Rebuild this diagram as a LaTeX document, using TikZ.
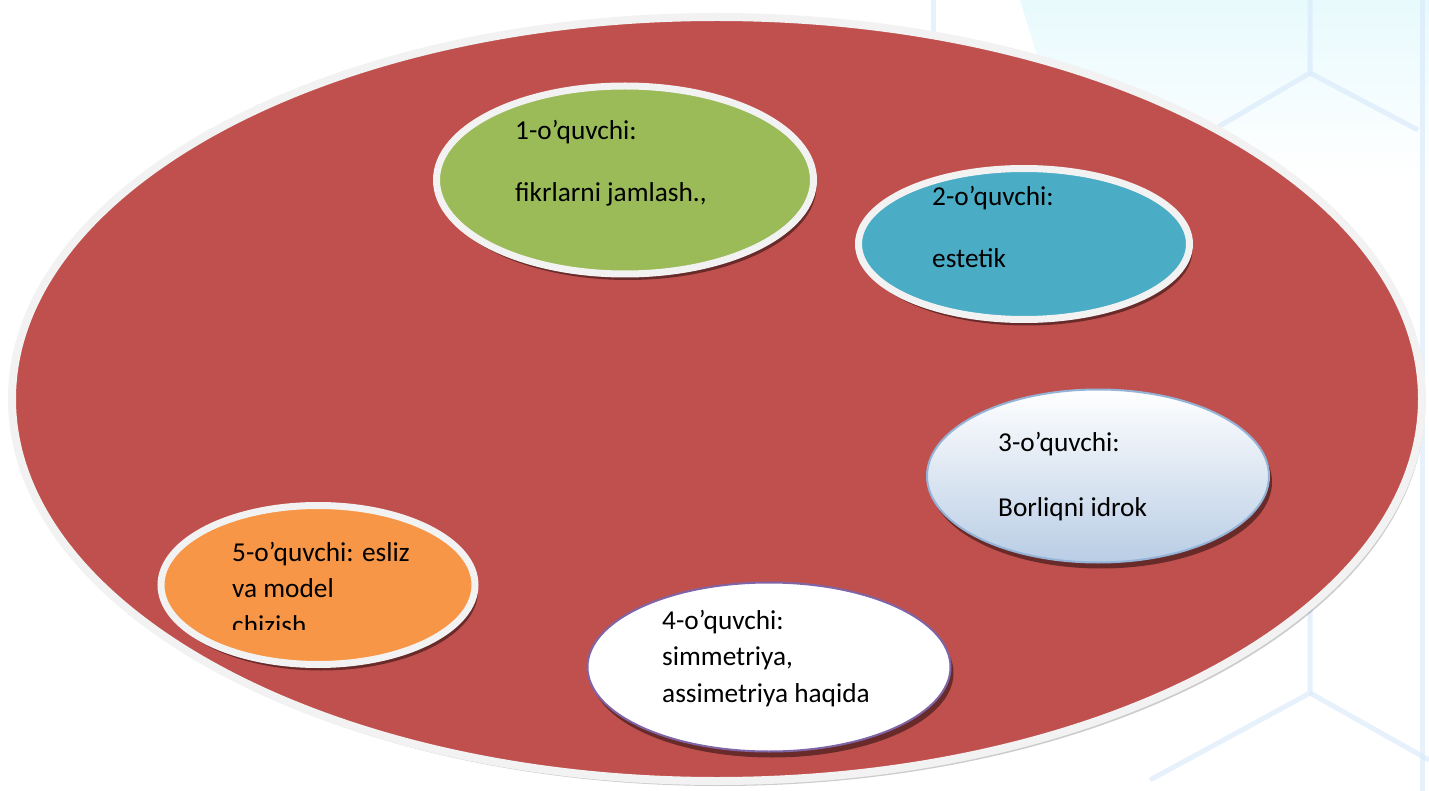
\documentclass[tikz,border=0pt]{standalone}
\usepackage{fontspec}
\setmainfont{Carlito}
\usetikzlibrary{shapes.geometric,shadows}
\definecolor{ovalred}{HTML}{C0504D}
\definecolor{ovalgreen}{HTML}{9BBB59}
\definecolor{ovalblue}{HTML}{4BACC6}
\definecolor{ovalorange}{HTML}{F79646}
\definecolor{rimgray}{HTML}{F2F2F2}
\definecolor{edgeblue}{HTML}{95B3D7}
\definecolor{shadeblue}{HTML}{B9CDE5}
\definecolor{edgepurple}{HTML}{7F64A6}
\definecolor{bgcyan}{HTML}{E8FAFD}
\definecolor{hexblue}{HTML}{D6E8FA}
\tikzset{
    ovalnode/.style={ % requires library shapes.geometric
        ellipse,
        draw=rimgray,
        line width=7pt,
        inner sep=0pt,
        drop shadow={shadow xshift=3pt,shadow yshift=-6pt,opacity=.45,fill=black}
    },
    pupiltext/.style={
        anchor=base west,
        align=left,
        inner sep=0pt,
        font=\fontsize{27.3}{36.5}\selectfont
    },
    hexline/.style={
        draw=hexblue,
        line width=5pt,
        opacity=.6
    }
}

\begin{document}
\begin{tikzpicture}[x=1pt,y=-1pt]
        \useasboundingbox (0,0) rectangle (1429,791);
        % faint background
        \shade[top color=bgcyan,bottom color=white] (1020,0) -- (1429,0) -- (1429,180) -- (1075,180) -- cycle;
        \draw[hexline] (933,0) -- (933,40);
        \draw[hexline] (1310,0) -- (1310,73) -- (1218,127);
        \draw[hexline] (1310,73) -- (1418,130);
        \draw[hexline] (1422,0) -- (1422,791);
        \draw[hexline] (1310,600) -- (1310,693) -- (1150,780);
        \draw[hexline] (1310,693) -- (1429,760);

        \node[ellipse,fill=ovalred,draw=rimgray,line width=8pt,
              minimum width=1410pt,minimum height=764pt,
              drop shadow={shadow xshift=3pt,shadow yshift=-5pt,opacity=.2,fill=black}] (board) at (717,399) {};

        \node[ovalnode,fill=ovalgreen,minimum width=377pt,minimum height=188pt] (pupilA) at (625,180) {};
        \node[ovalnode,fill=ovalblue,minimum width=331pt,minimum height=151pt] (pupilB) at (1024,244) {};
        \node[ovalnode,draw=edgeblue,line width=2pt,top color=white,bottom color=shadeblue,
              minimum width=342pt,minimum height=173pt] (pupilC) at (1098,476) {};
        \node[ovalnode,draw=edgepurple,line width=2pt,fill=white,
              minimum width=363pt,minimum height=169pt] (pupilD) at (769,667) {};
        \node[ovalnode,fill=ovalorange,minimum width=314pt,minimum height=159pt] (pupilE) at (318,585) {};

        % anchor base west = baseline of the last line
        \node[pupiltext] (textA) at (515,202) {1-o’quvchi:\\[26pt]fikrlarni jamlash.,};
        \node[pupiltext] (textB) at (932,268) {2-o’quvchi:\\[26pt]estetik};
        \node[pupiltext] (textC) at (998,516) {3-o’quvchi:\\[28pt]Borliqni idrok};
        \node[pupiltext] (textD) at (662,702) {4-o’quvchi:\\simmetriya,\\assimetriya haqida};
        \begin{scope}
            \clip (200,520) rectangle (470,629);
            \node[pupiltext] (textE) at (232,634) {5-o’quvchi: esliz\\va model\\chizish};
        \end{scope}
\end{tikzpicture}
\end{document}
